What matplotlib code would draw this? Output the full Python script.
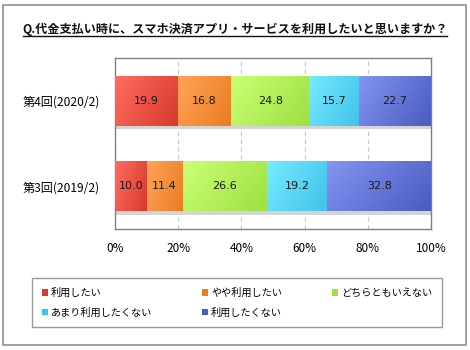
import numpy as np
import matplotlib.pyplot as plt
from matplotlib.patches import Rectangle
from matplotlib.colors import to_rgb

plt.rcParams["font.family"] = ["Noto Sans CJK JP", "DejaVu Sans"]
plt.rcParams["axes.unicode_minus"] = False

# データ
title = "Q.代金支払い時に、スマホ決済アプリ・サービスを利用したいと思いますか？"
rounds = ["第3回(2019/2)", "第4回(2020/2)"]
answers = ["利用したい", "やや利用したい", "どちらともいえない", "あまり利用したくない", "利用したくない"]
values = {
    "利用したい": [10.0, 19.9],
    "やや利用したい": [11.4, 16.8],
    "どちらともいえない": [26.6, 24.8],
    "あまり利用したくない": [19.2, 15.7],
    "利用したくない": [32.8, 22.7],
}
xticks = [0, 20, 40, 60, 80, 100]

# 色（明るい側, 暗い側）
colors = [("#FF6C62", "#D83A2C"), ("#FFA458", "#EA7C22"), ("#CCFF74", "#9CE042"),
          ("#76EAFF", "#42C2EA"), ("#8494F2", "#4A5CC0")]


def gradient_fill(ax, patch, c1, c2):
    # バーを左上→右下のグラデーションで塗る
    x0, y0 = patch.get_x(), patch.get_y()
    w, h = patch.get_width(), patch.get_height()
    a, b = np.array(to_rgb(c1)), np.array(to_rgb(c2))
    gx, gy = np.meshgrid(np.linspace(0, 1, 64), np.linspace(0, 1, 16))
    t = (gx * 0.7 + gy * 0.3)[..., None]
    img = a * (1 - t) + b * t
    im = ax.imshow(img, extent=(x0, x0 + w, y0, y0 + h), origin="upper",
                   aspect="auto", zorder=3, interpolation="bilinear")
    im.set_clip_path(patch)


fig = plt.figure(figsize=(4.7, 3.5), dpi=100)
fig.patches.append(Rectangle((3 / 470, 5 / 350), 463 / 470, 340 / 350, transform=fig.transFigure,
                             fill=False, edgecolor="#909090", linewidth=1.2))

ax = fig.add_axes([115 / 470, 1 - 229 / 350, 316 / 470, 171 / 350])
y = np.arange(len(rounds))
left = np.zeros(len(rounds))
bar_h = 0.585
for i, name in enumerate(answers):
    v = np.array(values[name])
    # 影
    ax.barh(y - 0.04, v, left=left, height=bar_h, color="#d4d4d4", zorder=2)
    bars = ax.barh(y, v, left=left, height=bar_h, color=colors[i][1], label=name, zorder=3)
    for p in bars:
        gradient_fill(ax, p, colors[i][0], colors[i][1])
    for j, val in enumerate(v):
        ax.text(left[j] + val / 2, y[j], f"{val:.1f}", ha="center", va="center",
                fontsize=8, color="#1a1a1a", zorder=5, family="DejaVu Sans")
    left += v

ax.set_xlim(0, 100)
ax.set_ylim(-0.5, 1.5)
ax.set_yticks(y)
ax.set_yticklabels(rounds, fontsize=8.7)
ax.set_xticks(xticks)
ax.set_xticklabels([f"{t}%" for t in xticks], fontsize=8.5)
ax.tick_params(length=0)
ax.tick_params(axis="x", pad=9)
ax.tick_params(axis="y", pad=11)
ax.grid(axis="x", color="#c8c8c8", linestyle=(0, (4, 3)), linewidth=0.8, zorder=0)
for s in ax.spines.values():
    s.set_color("#808080")
    s.set_linewidth(1.0)

fig.text(0.5, 1 - 29 / 350, title, ha="center", va="center", fontsize=8.7,
         fontweight="bold", color="#111111")
# 下線
fig.add_artist(plt.Line2D([23 / 470, 447 / 470], [1 - 36 / 350, 1 - 36 / 350],
                          transform=fig.transFigure, color="#111111", linewidth=1.0))

handles, labels = ax.get_legend_handles_labels()
order = [0, 3, 1, 4, 2]
leg = fig.legend([handles[k] for k in order], [labels[k] for k in order],
                 loc="lower left", bbox_to_anchor=(32 / 470, 1 - 327 / 350, 410 / 470, 45 / 350),
                 mode="expand", ncol=3,
                 fontsize=7.3, frameon=True, fancybox=False, edgecolor="#808080",
                 handlelength=0.6, handleheight=0.6, handletextpad=0.3,
                 columnspacing=2.0, borderpad=0.95, labelspacing=0.9, borderaxespad=0)
leg.get_frame().set_linewidth(1.0)

fig.savefig("out.png", dpi=100)
